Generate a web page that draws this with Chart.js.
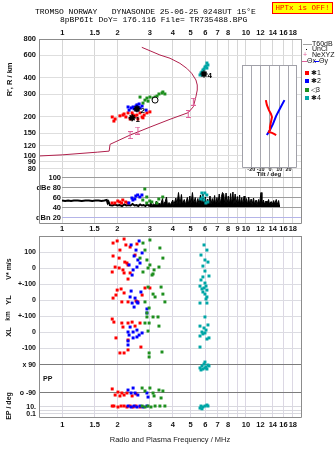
<!DOCTYPE html>
<html>
<head>
<meta charset="utf-8">
<title>Tromso dynasonde ionogram</title>
<script src="https://cdn.jsdelivr.net/npm/chart.js@4.4.1/dist/chart.umd.min.js"></script>
<style>
  html, body { margin: 0; padding: 0; background: #fff; }
  #page { position: relative; width: 335px; height: 451px; overflow: hidden; background: #fff; }
  #page canvas { position: absolute; }
  .mono { position: absolute; white-space: pre; font-family: 'Liberation Mono', 'DejaVu Sans Mono', monospace; font-size: 8px; line-height: 8px; color: #000; }
  #hptx { position: absolute; left: 272px; top: 2px; width: 59px; height: 10px; background: #ffff00; border: 1px solid #ff0000; color: #ff0000; font: 7.5px/10px 'Liberation Mono', 'DejaVu Sans Mono', monospace; text-align: center; white-space: pre; }
  .lg { position: absolute; font: 7px/8px 'Liberation Sans', Arial, sans-serif; color: #111; white-space: nowrap; }
  .sw { position: absolute; }
</style>
</head>
<body>
<div id="page">
  <canvas id="ionogram" width="335" height="172" style="left:0;top:0"></canvas>
  <canvas id="echoDb" width="335" height="64" style="left:0;top:172px"></canvas>
  <canvas id="kinematics" width="335" height="215" style="left:0;top:236px"></canvas>
  <canvas id="tilt" width="60" height="116" style="left:240px;top:64px"></canvas>

  <div class="mono" style="left:35px;top:8px">TROMSO NORWAY   DYNASONDE 25-06-25 0248UT 15°E</div>
  <div class="mono" style="left:60px;top:16px">8pBP6It DoY= 176.116 File= TR735488.BPG</div>
  <div id="hptx">HPTx is OFF!</div>

  <!-- legend -->
  <div class="sw" style="left:303px;top:44px;width:9px;height:1px;background:#a0a0a0"></div>
  <div class="lg" style="left:312px;top:40px">T60dB</div>
  <div class="sw" style="left:306px;top:49px;width:1px;height:1px;background:#000"></div>
  <div class="lg" style="left:312px;top:45px">UnCl</div>
  <div class="lg" style="left:303px;top:51px;color:#e0609a">+</div>
  <div class="lg" style="left:312px;top:51px">NeXYZ</div>
  <div class="sw" style="left:302px;top:61px;width:5px;height:1px;background:#e0609a"></div>
  <div class="lg" style="left:307px;top:57px">Θx</div>
  <div class="sw" style="left:314px;top:61px;width:5px;height:1px;background:#0000ff"></div>
  <div class="lg" style="left:319px;top:57px">Θy</div>
  <div class="sw" style="left:305px;top:71px;width:4px;height:4px;background:#ff0000"></div>
  <div class="lg" style="left:311px;top:69px">✱1</div>
  <div class="sw" style="left:305px;top:79px;width:4px;height:4px;background:#0000ff"></div>
  <div class="lg" style="left:311px;top:77px">✱2</div>
  <div class="sw" style="left:305px;top:88px;width:4px;height:4px;background:#1e8f1e"></div>
  <div class="lg" style="left:311px;top:86px">◁3</div>
  <div class="sw" style="left:305px;top:96px;width:4px;height:4px;background:#00a6a6"></div>
  <div class="lg" style="left:311px;top:94px">✱4</div>
</div>

<script>
// ---------------- axis values ----------------
const freqMin = 0.747, freqMax = 19.93;          // MHz
const freqTicks = [1, 1.5, 2, 3, 4, 5, 6, 7, 8, 9, 10, 12, 14, 16, 18];
const freqLabelsOuter = ['1', '1.5', '2', '3', '4', '5', '6', '7', '8', '', '10', '12', '14', '16', '18'];
const freqLabelsMid = ['1', '1.5', '2', '3', '4', '5', '6', '7', '8', '9', '10', '12', '14', '16', '18'];

const heightTicks = [800, 600, 400, 300, 200, 150, 120, 100, 90, 80];   // km
const dbTicks = [100, 80, 60, 40, 20];
const dbTickLabels = ['100', 'dBe 80', '60', '40', 'dBn 20'];
const velocityTicks = [100, 0];
const velocityTickLabels = ['100', '0'];
const ylTicks = [100, 0];
const ylTickLabels = ['+-100', '0'];
const xlTicks = [100, 0, -100];
const xlTickLabels = ['+-100', '0', '-100'];
const polarTicks = [90, -90];
const polarTickLabels = ['x 90', 'o -90'];
const ellipTicks = [10, 1, 0.1];
const ellipTickLabels = ['10.', '', '0.1'];
const tiltTicks = [-20, -10, 0, 10, 20];

// ---------------- profile and echoes (freq MHz, height km) ----------------
const profileFreq =   [0.75, 1.00, 1.55, 1.80, 1.82, 2.34, 3.00, 3.86, 4.85, 5.17, 5.34, 5.43, 5.43, 5.34, 5.06, 4.76, 4.37, 3.86, 3.40, 2.71];
const profileHeight = [100,  102,  107,  109,  123,  145,  167,  192,  216,  240,  287,  323,  353,  386,  435,  475,  519,  568,  602,  690];
const neFreq = [2.34, 2.58, 4.85, 5.17];
const neHeight = [145, 157, 211, 262];

const echoHeight1 = [[1.87,200],[1.94,193],[1.91,186],[2.06,204],[2.14,207],[2.17,211],[2.28,215],[2.40,215],[2.43,207],[2.49,204],[2.55,207],[2.65,215],[2.72,200],[2.75,197],[2.79,207],[2.89,215],[3.00,219],[2.22,200],[2.34,193],[2.58,193]];
const echoHeight2 = [[2.28,239],[2.37,235],[2.43,239],[2.52,243],[2.55,248],[2.58,239],[2.65,235],[2.72,243],[2.55,226],[2.86,226],[2.46,231],[2.31,226],[2.62,252]];
const echoHeight3 = [[2.65,285],[2.82,270],[2.89,280],[3.00,285],[3.12,280],[3.20,285],[3.28,290],[3.36,301],[3.49,306],[3.53,312],[3.62,301],[2.75,256],[2.93,265]];
const echoHeight4 = [[5.62,422],[5.76,445],[5.83,461],[5.98,486],[6.13,522],[6.21,504],[5.69,437],[5.91,469],[6.06,495],[6.13,477],[5.76,422]];

const centroidFreq = [2.40, 2.55, 3.20, 5.91];
const centroidHeight = [197, 231, 270, 429];
const centroidNames = ['1', '2', '', '4'];

// ---------------- echo amplitude (freq MHz, dB) ----------------
const t60Low = [[1.00,54],[1.04,53],[1.08,54],[1.12,53],[1.16,54],[1.22,54],[1.28,53],[1.34,54],[1.40,54],[1.46,53],[1.52,54],[1.58,54],[1.64,53],[1.70,54],[1.75,55],[1.77,49],[1.79,52],[1.82,45],[1.88,44],[1.94,46],[2.00,44],[2.06,45],[2.12,43],[2.18,46],[2.24,44],[2.30,45],[2.36,44],[2.42,47],[2.48,44],[2.54,45],[2.60,43],[2.66,46],[2.72,44],[2.78,45],[2.84,43],[2.90,46],[2.96,44],[3.00,45]];
const t60High = [[3.00,41],[3.00,44],[3.04,51],[3.08,44],[3.14,47],[3.20,45],[3.26,53],[3.30,45],[3.38,49],[3.44,46],[3.52,58],[3.56,46],[3.64,52],[3.70,61],[3.74,46],[3.82,50],[3.90,46],[4.00,55],[4.06,46],[4.16,59],[4.22,47],[4.30,70],[4.38,46],[4.46,66],[4.52,47],[4.62,56],[4.70,46],[4.80,60],[4.86,47],[4.96,63],[5.02,46],[5.12,70],[5.20,47],[5.30,60],[5.38,46],[5.48,58],[5.56,47],[5.66,65],[5.74,46],[5.84,67],[5.92,47],[6.02,61],[6.10,46],[6.20,57],[6.28,47],[6.38,63],[6.46,46],[6.56,58],[6.64,47],[6.76,64],[6.84,46],[6.96,60],[7.04,47],[7.16,67],[7.24,46],[7.36,62],[7.46,70],[7.58,66],[7.68,46],[7.80,69],[7.90,47],[8.02,63],[8.12,46],[8.26,68],[8.36,47],[8.50,71],[8.60,46],[8.74,67],[8.84,47],[8.98,62],[9.08,46],[9.24,65],[9.34,47],[9.50,60],[9.60,46],[9.78,63],[9.88,47],[10.06,58],[10.18,46],[10.36,61],[10.48,47],[10.68,57],[10.80,46],[11.00,59],[11.14,47],[11.36,55],[11.50,46],[11.72,56],[11.86,47],[12.08,70],[12.22,46],[12.46,55],[12.60,47],[12.86,53],[13.02,46],[13.28,56],[13.44,47],[13.72,52],[13.88,46],[14.16,54],[14.34,47],[14.62,56],[14.80,46],[15.06,54],[15.20,45],[15.22,41]];
const echoDb1 = [[1.87,49],[1.94,49],[2.06,51],[2.11,49],[2.14,55],[2.22,51],[2.28,49],[2.01,53]];
const echoDb2 = [[2.40,59],[2.43,55],[2.52,63],[2.58,65],[2.65,61],[2.72,65],[2.31,49],[2.49,57]];
const echoDb3 = [[2.75,55],[2.89,49],[2.82,77],[3.08,51],[3.28,49],[3.36,57],[3.53,61],[2.89,61],[3.00,53]];
const echoDb4 = [[5.76,69],[5.98,69],[5.83,61],[6.13,65],[5.69,57],[6.21,51],[5.91,55],[6.06,49]];

// ---------------- echo kinematics (freq MHz, value) ----------------
const velocity1 = [[1.89,156],[1.99,169],[2.17,181],[2.22,144],[2.06,112],[2.34,131],[1.89,75],[2.04,62],[2.19,37],[1.94,6],[2.04,0],[2.25,31],[2.28,19],[2.14,-12],[2.17,-31],[2.34,-31],[2.49,81],[2.55,150],[1.87,-25],[2.28,-69]];
const velocity2 = [[2.43,-12],[2.55,6],[2.58,50],[2.65,31],[2.31,19],[2.40,-44],[2.52,112],[2.37,144],[2.62,169],[2.46,75],[2.72,94]];
const velocity3 = [[2.65,62],[2.89,50],[3.00,19],[3.16,-12],[3.36,6],[3.53,62],[2.93,0],[3.08,-44],[2.75,156],[3.00,175],[3.40,125],[2.82,112],[2.75,-25],[3.12,-37]];
const velocity4 = [[5.91,144],[6.13,112],[5.69,81],[5.98,50],[6.21,37],[5.83,12],[5.98,-19],[5.83,-56],[6.29,-50],[5.69,-75]];

const ylPos1 = [[1.96,31],[2.17,44],[2.11,-12],[1.89,12],[2.28,-12],[2.52,-6],[2.72,31],[2.82,75],[3.00,75],[2.58,-12],[2.09,69],[1.99,62]];
const ylPos2 = [[2.34,19],[2.40,-19],[2.49,12],[2.55,-12],[2.58,-19],[2.46,-44],[2.89,-56],[2.89,-81],[2.37,56],[2.68,50]];
const ylPos3 = [[2.93,81],[3.12,37],[3.20,19],[3.45,81],[3.53,37],[3.62,-12],[2.82,-12],[2.97,-50],[2.89,-81]];
const ylPos4 = [[5.98,106],[5.62,87],[6.06,87],[5.76,69],[6.13,62],[5.83,50],[5.98,37],[6.13,19],[6.06,6],[5.62,-19],[6.13,-19],[5.91,75]];

const xlPos1 = [[1.87,81],[1.91,62],[2.11,56],[2.14,31],[2.28,56],[2.40,62],[2.49,37],[1.96,-37],[2.28,-50],[2.28,-112],[2.06,-131],[2.17,-131],[2.68,-94],[2.65,56]];
const xlPos2 = [[2.28,0],[2.31,-19],[2.43,0],[2.55,12],[2.62,-19],[2.72,-6],[2.55,-31],[2.43,-37],[2.28,-56],[2.28,-81],[2.34,31]];
const xlPos3 = [[2.89,94],[3.12,94],[3.32,94],[2.97,56],[2.82,56],[2.93,6],[3.36,37],[2.97,-131],[2.97,-156],[3.49,-125]];
const xlPos4 = [[5.98,94],[5.62,37],[6.21,44],[5.76,0],[5.98,-6],[5.62,-25],[6.13,-44],[6.29,-37],[5.62,-94],[5.91,25],[6.06,12],[5.83,-12]];

const polar1 = [[1.87,-64],[1.94,-103],[2.11,-90],[2.17,-103],[2.25,-90],[2.40,-109],[2.52,-96],[2.01,-84],[2.06,-109]];
const polar2 = [[2.28,-71],[2.37,-90],[2.49,-90],[2.58,-103],[2.89,-90],[2.93,-116],[2.43,-58]];
const polar3 = [[2.72,-58],[2.82,-77],[3.00,-58],[3.12,-90],[3.36,-71],[3.53,-77],[3.45,-122],[3.16,-109]];
const polar4 = [[5.62,71],[5.76,84],[5.91,96],[5.98,109],[6.06,77],[6.13,64],[6.21,90],[6.29,84],[5.69,58],[5.83,64],[5.98,71]];

const ellip1 = [[1.87,19],[1.91,19],[2.01,10],[2.09,19],[2.17,19],[2.25,10],[2.34,19],[2.43,10],[2.52,19],[2.65,10]];
const ellip2 = [[2.28,19],[2.37,10],[2.46,19],[2.55,10],[2.65,19],[2.75,10],[2.89,19]];
const ellip3 = [[2.72,19],[2.82,10],[2.93,19],[3.04,10],[3.20,19],[3.40,19],[3.62,19]];
const ellip4 = [[5.62,5],[5.69,19],[5.83,10],[5.98,19],[6.13,37],[6.21,19],[5.76,3]];

// ---------------- tilt (deg, height km) ----------------
const thetaX = [[-4.4,270],[-3.3,248],[-1.1,226],[1.1,211],[2.2,200],[1.1,183],[0,167],[0,159],[-1.1,153],[2.2,151],[4.4,148],[6.7,145]];
const thetaY = [[15.6,270],[11.1,235],[6.7,204],[3.3,177],[0,159],[-3.3,145]];

// ---------------- styling ----------------
const FONT = "'Liberation Sans', Arial, Helvetica, sans-serif";
const classColors = ['#ff0000', '#0000ff', '#1e8f1e', '#00a6a6'];
const profileColor = '#b0204c';
const neColor = '#e0609a';

Chart.defaults.font.family = FONT;
Chart.defaults.font.size = 7.5;
Chart.defaults.color = '#111';

const pairs = arr => arr.map(([x, y]) => ({x, y}));
const zip = (xs, ys) => xs.map((x, i) => ({x, y: ys[i]}));
const setTicks = vals => s => { s.ticks = vals.map(v => ({value: v})); };
// fixes an axis box size and drops the extra room Chart.js keeps for edge labels
const fixBox = (w, h) => s => {
  if (w !== null) s.width = w;
  if (h !== null) s.height = h;
  s.paddingTop = 0; s.paddingBottom = 0; s.paddingLeft = 0; s.paddingRight = 0;
};

function baseOptions(padding) {
  return {
    responsive: false, animation: false, devicePixelRatio: 1, events: [],
    layout: {padding, autoPadding: false},
    plugins: {legend: {display: false}, tooltip: {enabled: false}}
  };
}

function freqAxis(position, min, labels, height, pad, gridColor) {
  return {
    type: 'logarithmic', position, min, max: freqMax, bounds: 'data',
    afterBuildTicks: setTicks(freqTicks),
    afterFit: fixBox(null, height),
    ticks: {autoSkip: false, maxRotation: 0, minRotation: 0, padding: pad,
            font: {size: 7.5, weight: 'bold'}, callback: (v, i) => labels[i]},
    grid: {color: gridColor, drawTicks: false},
    border: {display: false}
  };
}

function echoSet(points, color, axis, order) {
  const ds = {type: 'scatter', data: pairs(points), pointStyle: 'rect', pointRadius: 2.1,
              backgroundColor: color, borderWidth: 0, order};
  if (axis) ds.yAxisID = axis;
  return ds;
}

// outline drawn around the plotting area
function framePlugin(sides, color, leftX) {
  return {
    id: 'frame',
    afterDraw(chart) {
      const {ctx, chartArea: a} = chart;
      const L = (leftX !== undefined ? leftX : a.left) + 0.5;
      const R = a.right + 0.5, T = a.top + 0.5, B = a.bottom + 0.5;
      ctx.save();
      ctx.strokeStyle = color; ctx.lineWidth = 1;
      ctx.beginPath();
      if (sides.includes('t')) { ctx.moveTo(L, T); ctx.lineTo(R, T); }
      if (sides.includes('l')) { ctx.moveTo(L, a.top); ctx.lineTo(L, B); }
      if (sides.includes('r')) { ctx.moveTo(R, a.top); ctx.lineTo(R, B); }
      if (sides.includes('b')) { ctx.moveTo(L, B); ctx.lineTo(R, B); }
      ctx.stroke();
      ctx.restore();
    }
  };
}

function vertText(ctx, text, x, y, size) {
  ctx.save();
  ctx.translate(x, y);
  ctx.rotate(-Math.PI / 2);
  ctx.font = 'bold ' + size + 'px ' + FONT;
  ctx.textAlign = 'center';
  ctx.textBaseline = 'middle';
  ctx.fillStyle = '#111';
  ctx.fillText(text, 0, 0);
  ctx.restore();
}

// "I"-shaped marker for the electron density points
function iMarker(color) {
  const c = document.createElement('canvas');
  c.width = 5; c.height = 8;
  const g = c.getContext('2d');
  g.fillStyle = color;
  g.fillRect(2, 0, 1, 8);
  g.fillRect(0, 0, 5, 1);
  g.fillRect(0, 7, 5, 1);
  return c;
}

// ---------------- ionogram (virtual height vs frequency) ----------------
const ionoOpts = baseOptions({left: 0, right: 34, top: 0, bottom: 0});
ionoOpts.scales = {
  x: freqAxis('top', freqMin, freqLabelsOuter, 39, 1.5, '#d6d6d6'),
  y: {
    type: 'logarithmic', min: 75.2, max: 800, bounds: 'data',
    afterBuildTicks: setTicks(heightTicks),
    afterFit: fixBox(39, null),
    ticks: {padding: 3, font: {size: 7.5, weight: 'bold'}, callback: v => String(v)},
    grid: {color: '#dedede', drawTicks: false},
    border: {display: false}
  }
};

new Chart(document.getElementById('ionogram'), {
  type: 'scatter',
  data: {datasets: [
    {type: 'line', data: zip(profileFreq, profileHeight), borderColor: profileColor, borderWidth: 1,
     pointRadius: 0, fill: false, tension: 0, order: 6},
    {type: 'scatter', data: zip(neFreq, neHeight), pointStyle: iMarker(neColor), pointRadius: 4, order: 5},
    echoSet(echoHeight1, classColors[0], null, 4),
    echoSet(echoHeight2, classColors[1], null, 3),
    echoSet(echoHeight3, classColors[2], null, 2),
    echoSet(echoHeight4, classColors[3], null, 1),
    {type: 'scatter', data: zip(centroidFreq, centroidHeight),
     pointStyle: ['star', 'star', 'circle', 'star'], pointRadius: [3.5, 3.5, 3, 3.5],
     borderColor: '#000', borderWidth: [1.6, 1.6, 1, 1.6], backgroundColor: '#fff', order: 0}
  ]},
  options: ionoOpts,
  plugins: [
    framePlugin('tlr', '#8c8c8c'),
    {
      id: 'ionoText',
      afterDraw(chart) {
        const {ctx, scales} = chart;
        vertText(ctx, "R', R / km", 10, scales.y.getPixelForValue(390), 7.5);
        const meta = chart.getDatasetMeta(6);
        ctx.save();
        ctx.font = 'bold 8px ' + FONT;
        ctx.fillStyle = '#000';
        ctx.textBaseline = 'middle';
        meta.data.forEach((pt, i) => { ctx.fillText(centroidNames[i], pt.x + 3.5, pt.y + 1.5); });
        ctx.restore();
      }
    }
  ]
});

// ---------------- echo amplitude strip ----------------
const dbOpts = baseOptions({left: 0, right: 34, top: 0, bottom: 0});
dbOpts.scales = {
  x: freqAxis('bottom', 1, freqLabelsMid, 13, 1.5, '#d6d6d6'),
  y: {
    type: 'linear', min: 9, max: 111,
    afterBuildTicks: setTicks(dbTicks),
    afterFit: fixBox(62, null),
    ticks: {padding: 1, font: {size: 7.5, weight: 'bold'}, callback: (v, i) => dbTickLabels[i]},
    grid: {color: c => (c.tick && c.tick.value === 20) ? '#b4b4e8' : '#9c9c9c', drawTicks: false},
    border: {display: false}
  }
};

new Chart(document.getElementById('echoDb'), {
  type: 'scatter',
  data: {datasets: [
    {type: 'line', data: pairs(t60Low), borderColor: '#000', borderWidth: 2, pointRadius: 0, fill: false, tension: 0, order: 6},
    {type: 'line', data: pairs(t60High), borderColor: '#000', borderWidth: 1, pointRadius: 0,
     backgroundColor: '#000', fill: {value: 41}, tension: 0, order: 5},
    echoSet(echoDb1, classColors[0], null, 4),
    echoSet(echoDb2, classColors[1], null, 3),
    echoSet(echoDb3, classColors[2], null, 2),
    echoSet(echoDb4, classColors[3], null, 1)
  ]},
  options: dbOpts,
  plugins: [framePlugin('lrb', '#8c8c8c', 39)]
});

// ---------------- kinematics: V*, YL, XL, PP, EP ----------------
// The five band axes share the left margin; the label-less boxes have no width,
// so their labels are allowed to draw outside their own box.
function bandAxis(type, min, max, ticks, labels, width, gridColor) {
  return {
    type, position: 'left', min, max, bounds: 'data',
    afterBuildTicks: setTicks(ticks),
    afterFit: s => {
      fixBox(width, null)(s);
      s._computeLabelArea = () => undefined;
    },
    ticks: {padding: 3, font: {size: 7, weight: 'bold'}, callback: (v, i) => labels[i]},
    grid: {color: gridColor, drawTicks: false},
    border: {display: false}
  };
}

const kinOpts = baseOptions({left: 0, right: 34, top: 0, bottom: 0});
const kinX = freqAxis('bottom', freqMin, freqLabelsOuter, 34, 3.5, '#dcd8e4');
kinX.title = {display: true, text: 'Radio and Plasma Frequency / MHz', color: '#222',
              font: {size: 7.5}, padding: {top: 0, bottom: 6.5}};
kinOpts.scales = {
  x: kinX,
  yV:  bandAxis('linear', -931.25, 200, velocityTicks, velocityTickLabels, 0, '#dcdce2'),
  yYL: bandAxis('linear', -731.25, 400, ylTicks, ylTickLabels, 0, '#dcdce2'),
  yXL: bandAxis('linear', -531.25, 600, xlTicks, xlTickLabels, 0, '#dcdce2'),
  yPP: bandAxis('linear', -244.29, 919.29, polarTicks, polarTickLabels, 0, '#7c7c7c'),
  yEP: bandAxis('logarithmic', 0.01389, 7.2e49, ellipTicks, ellipTickLabels, 39, '#d8d8de')
};

const kinSeries = [
  ['yV', [velocity1, velocity2, velocity3, velocity4]],
  ['yYL', [ylPos1, ylPos2, ylPos3, ylPos4]],
  ['yXL', [xlPos1, xlPos2, xlPos3, xlPos4]],
  ['yPP', [polar1, polar2, polar3, polar4]],
  ['yEP', [ellip1, ellip2, ellip3, ellip4]]
];
const kinDatasets = [];
kinSeries.forEach(([axis, groups]) => {
  groups.forEach((g, k) => kinDatasets.push(echoSet(g, classColors[k], axis, 4 - k)));
});

new Chart(document.getElementById('kinematics'), {
  type: 'scatter',
  data: {datasets: kinDatasets},
  options: kinOpts,
  plugins: [
    {
      // every band axis hugs the left edge of the plotting area
      id: 'bandAxesAlign',
      afterLayout(chart) {
        ['yV', 'yYL', 'yXL', 'yPP', 'yEP'].forEach(id => {
          const s = chart.scales[id];
          s.right = chart.chartArea.left;
          s.left = s.right - s.width;
          s._labelItems = null;
        });
      }
    },
    framePlugin('tlrb', '#8c8c8c'),
    {
      id: 'kinText',
      afterDraw(chart) {
        const {ctx, scales, chartArea} = chart;
        vertText(ctx, 'V* m/s', 9, scales.yV.getPixelForValue(0) + 1, 7);
        vertText(ctx, 'YL', 9, scales.yYL.getPixelForValue(0), 7.5);
        vertText(ctx, 'km', 8, scales.yXL.getPixelForValue(100), 6.5);
        vertText(ctx, 'XL', 9, scales.yXL.getPixelForValue(0), 7.5);
        vertText(ctx, 'EP / deg', 9, (scales.yPP.getPixelForValue(-90) + chartArea.bottom) / 2 + 1, 7);
        ctx.save();
        ctx.font = 'bold 7px ' + FONT;
        ctx.fillStyle = '#111';
        ctx.textBaseline = 'middle';
        ctx.fillText('PP', chartArea.left + 4, scales.yPP.getPixelForValue(0));
        ctx.restore();
      }
    }
  ]
});

// ---------------- tilt inset ----------------
const tiltOpts = baseOptions({left: 2, right: 4, top: 1, bottom: 0});
tiltOpts.scales = {
  x: {
    type: 'linear', min: -30, max: 28,
    afterBuildTicks: setTicks(tiltTicks),
    afterFit: fixBox(null, 13),
    ticks: {padding: 0, autoSkip: false, maxRotation: 0, font: {size: 5.5, weight: 'bold', lineHeight: 1},
            callback: v => String(v)},
    grid: {color: '#a8a8b0', drawTicks: false},
    border: {display: false},
    title: {display: true, text: 'Tilt / deg', color: '#111', font: {size: 6, weight: 'bold', lineHeight: 1},
            padding: {top: 0, bottom: 2.5}}
  },
  y: {type: 'logarithmic', display: false, min: 82.3, max: 503.7}
};

new Chart(document.getElementById('tilt'), {
  type: 'scatter',
  data: {datasets: [
    {type: 'line', data: pairs(thetaX), borderColor: '#ff0000', borderWidth: 2, pointRadius: 0, tension: 0, fill: false},
    {type: 'line', data: pairs(thetaY), borderColor: '#0000ff', borderWidth: 2, pointRadius: 0, tension: 0, fill: false}
  ]},
  options: tiltOpts,
  plugins: [
    {
      id: 'tiltBackground',
      beforeDraw(chart) {
        const {ctx, chartArea: a} = chart;
        ctx.save();
        ctx.fillStyle = '#fff';
        ctx.fillRect(a.left, a.top, a.right - a.left, a.bottom - a.top);
        ctx.restore();
      }
    },
    framePlugin('tlrb', '#a0a0a8')
  ]
});
</script>
</body>
</html>
